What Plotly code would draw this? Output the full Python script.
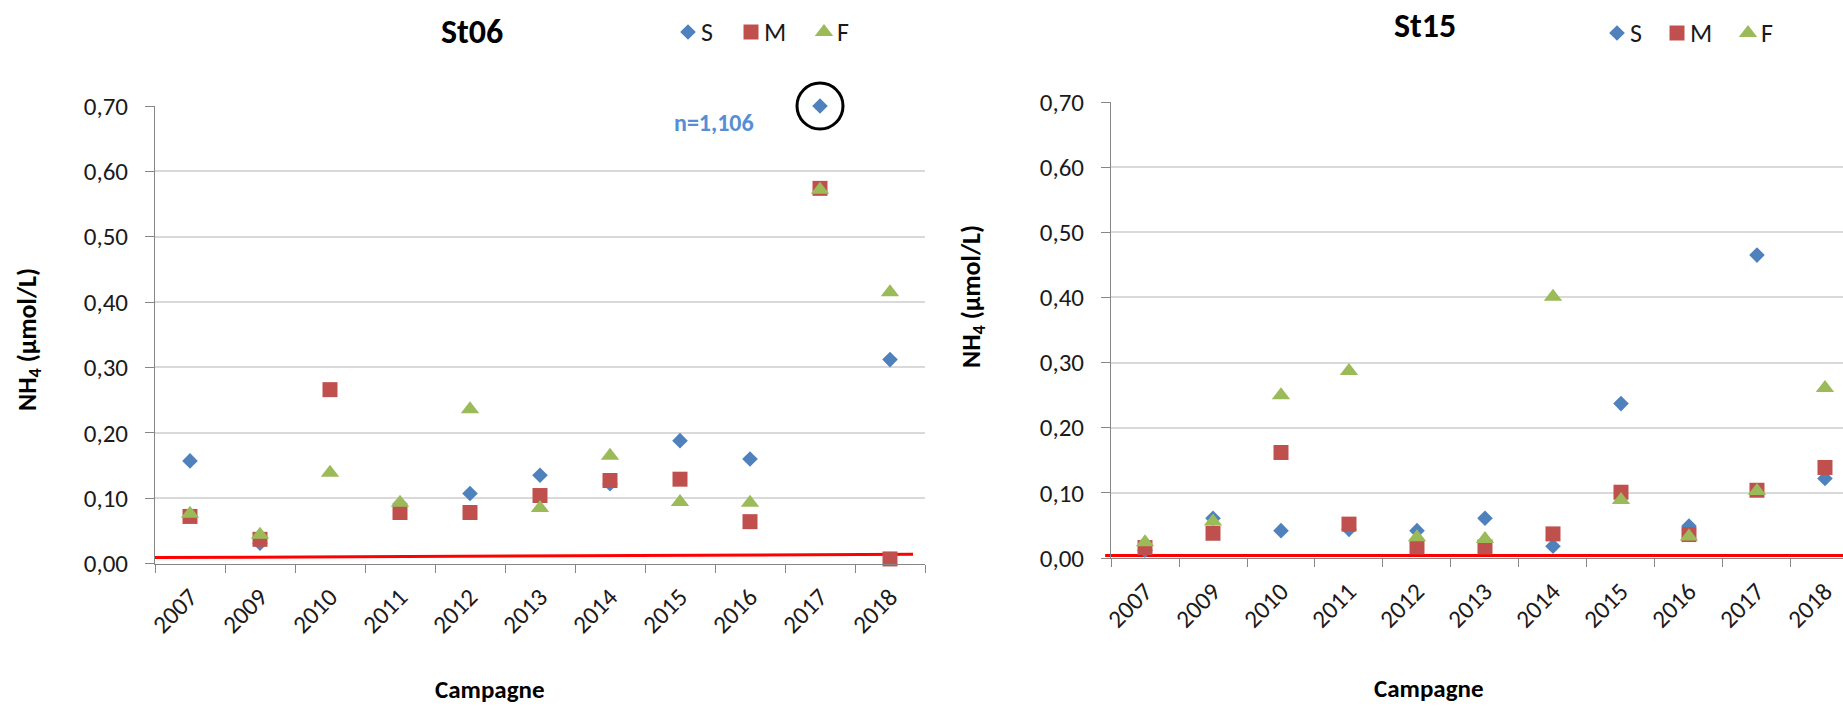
import plotly.graph_objects as go

# Campaign years (categorical x axis)
YEARS = ["2007", "2009", "2010", "2011", "2012", "2013",
         "2014", "2015", "2016", "2017", "2018"]

# NH4 (µmol/L) per depth layer, station St06
ST06_S = [0.157, 0.031, None, 0.091, 0.107, 0.135, 0.122, 0.188, 0.160, 1.106, 0.312]
ST06_M = [0.072, 0.037, 0.266, 0.078, 0.078, 0.104, 0.127, 0.129, 0.064, 0.574, 0.007]
ST06_F = [0.076, 0.044, 0.139, 0.093, 0.236, 0.085, 0.165, 0.094, 0.093, 0.572, 0.415]

# NH4 (µmol/L) per depth layer, station St15
ST15_S = [0.012, 0.061, 0.042, 0.044, 0.042, 0.061, 0.018, 0.237, 0.049, 0.465, 0.122]
ST15_M = [0.016, 0.038, 0.162, 0.052, 0.017, 0.017, 0.037, 0.101, 0.036, 0.104, 0.139]
ST15_F = [0.024, 0.056, 0.250, 0.287, 0.032, 0.029, 0.401, 0.089, 0.033, 0.103, 0.261]

# Detection-limit reference line (start, end) for each station
LIMIT_ST06 = [0.009, 0.014]
LIMIT_ST15 = [0.004, 0.004]

Y_MAX = 0.70
Y_TICKS = [0.0, 0.1, 0.2, 0.3, 0.4, 0.5, 0.6, 0.7]

# ---- layout constants (pixels of the 1843 x 706 canvas) ----
W, H = 1843, 706
FONT = "Carlito, Lato, sans-serif"
TXT = "#1a1a1a"
AXIS = "#868686"
GRID = "#d9d9d9"
C_S, C_M, C_F = "#4f81bd", "#c0504d", "#9bbb59"

# legend glyph anchors (x of each symbol, shared baseline y)
LEGEND_06 = dict(xs=[688, 751, 824], y=32)
LEGEND_15 = dict(xs=[1617, 1677, 1748], y=33)


def px_x(p):
    return p / W


def px_y(p):
    return 1 - p / H


def clip(vals):
    return [None if v is None else min(v, Y_MAX) for v in vals]


fig = go.Figure()

series = [
    ("S", "diamond", 12, C_S),
    ("M", "square", 15, C_M),
    ("F", "triangle-up", 16, C_F),
]

for (xa, ya, data) in [
    ("x", "y", [ST06_S, ST06_M, ST06_F]),
    ("x2", "y2", [ST15_S, ST15_M, ST15_F]),
]:
    for (name, sym, size, col), vals in zip(series, data):
        fig.add_trace(go.Scatter(
            x=YEARS, y=clip(vals), mode="markers", name=name,
            marker=dict(symbol=sym, size=size, color=col, line=dict(width=0)),
            xaxis=xa, yaxis=ya, cliponaxis=False, showlegend=False,
            hoverinfo="x+y+name",
        ))

# Ring highlighting the off-scale surface value of 2017 at St06
i_out = 9
fig.add_trace(go.Scatter(
    x=[YEARS[i_out]], y=[min(ST06_S[i_out], Y_MAX)], mode="markers",
    marker=dict(symbol="circle-open", size=46, color="black", line=dict(width=3)),
    xaxis="x", yaxis="y", showlegend=False, cliponaxis=False, hoverinfo="skip",
))

# Hand-built legends drawn on a full-canvas pixel overlay
for leg in (LEGEND_06, LEGEND_15):
    for (name, sym, size, col), lx in zip(series, leg["xs"]):
        fig.add_trace(go.Scatter(
            x=[lx], y=[leg["y"]], mode="markers",
            marker=dict(symbol=sym, size=size, color=col, line=dict(width=0)),
            xaxis="x3", yaxis="y3", showlegend=False, cliponaxis=False,
            hoverinfo="skip",
        ))
        fig.add_annotation(text=name, x=lx + 11, y=leg["y"], xref="x3", yref="y3",
                           xanchor="left", yanchor="middle", showarrow=False,
                           font=dict(family=FONT, size=26, color=TXT))

xcommon = dict(
    type="category", categoryorder="array", categoryarray=YEARS,
    tickson="boundaries", ticks="outside", ticklen=8, tickcolor=AXIS,
    tickwidth=1, showline=True, linecolor=AXIS, linewidth=1,
    showgrid=False, zeroline=False, tickangle=-45, automargin=False,
    tickfont=dict(family=FONT, size=25, color=TXT), ticklabelstandoff=8,
)
ycommon = dict(
    range=[0, Y_MAX], tickvals=Y_TICKS, tickformat=".2f",
    ticks="outside", ticklen=9, tickcolor=AXIS, tickwidth=1,
    showline=True, linecolor=AXIS, linewidth=1, automargin=False,
    showgrid=True, gridcolor=GRID, gridwidth=1.5, zeroline=False,
    tickfont=dict(family=FONT, size=25, color=TXT), ticklabelstandoff=12,
)
overlay = dict(visible=False, showgrid=False, zeroline=False, fixedrange=True,
               automargin=False)

fig.update_layout(
    width=W, height=H,
    margin=dict(l=0, r=0, t=0, b=0),
    paper_bgcolor="white", plot_bgcolor="rgba(0,0,0,0)",
    separators=", ",
    showlegend=False,
    font=dict(family=FONT, color=TXT),
    xaxis=dict(xcommon, domain=[px_x(155), px_x(925)], range=[-0.5, 10.5], anchor="y"),
    yaxis=dict(ycommon, domain=[px_y(563.5), px_y(106)], anchor="x"),
    xaxis2=dict(xcommon, domain=[px_x(1111), 1.0], range=[-0.5, 10.265], anchor="y2"),
    yaxis2=dict(ycommon, domain=[px_y(558), px_y(102)], anchor="x2"),
    xaxis3=dict(overlay, domain=[0, 1], range=[0, W], anchor="y3"),
    yaxis3=dict(overlay, domain=[0, 1], range=[H, 0], anchor="x3"),
)

# Detection-limit lines
fig.add_shape(type="line", xref="x domain", yref="y", x0=0, x1=(913 - 155) / 770,
              y0=LIMIT_ST06[0], y1=LIMIT_ST06[1], line=dict(color="#ff0000", width=3),
              layer="below")
fig.add_shape(type="line", xref="x2 domain", yref="y2", x0=-0.008, x1=1,
              y0=LIMIT_ST15[0], y1=LIMIT_ST15[1], line=dict(color="#ff0000", width=3),
              layer="below")

value_txt = f"n={ST06_S[i_out]:.3f}".replace(".", ",")

annotations = [
    dict(text="<b>St06</b>", x=px_x(472), y=px_y(31), font=dict(size=34, color="#000")),
    dict(text="<b>St15</b>", x=px_x(1425), y=px_y(25), font=dict(size=34, color="#000")),
    dict(text="<b>NH<sub>4</sub> (µmol/L)</b>", x=px_x(28), y=px_y(340), textangle=-90,
         font=dict(size=26, color="#000")),
    dict(text="<b>NH<sub>4</sub> (µmol/L)</b>", x=px_x(973), y=px_y(297), textangle=-90,
         font=dict(size=26, color="#000")),
    dict(text="<b>Campagne</b>", x=px_x(490), y=px_y(689), font=dict(size=25, color="#000")),
    dict(text="<b>Campagne</b>", x=px_x(1429), y=px_y(688), font=dict(size=25, color="#000")),
    dict(text=f"<b>{value_txt}</b>", x=px_x(714), y=px_y(122), font=dict(size=24, color="#558ed5")),
]
for a in annotations:
    a.update(xref="paper", yref="paper", showarrow=False, xanchor="center", yanchor="middle")
    a["font"]["family"] = FONT
    fig.add_annotation(**a)

fig.write_html("out.html")
